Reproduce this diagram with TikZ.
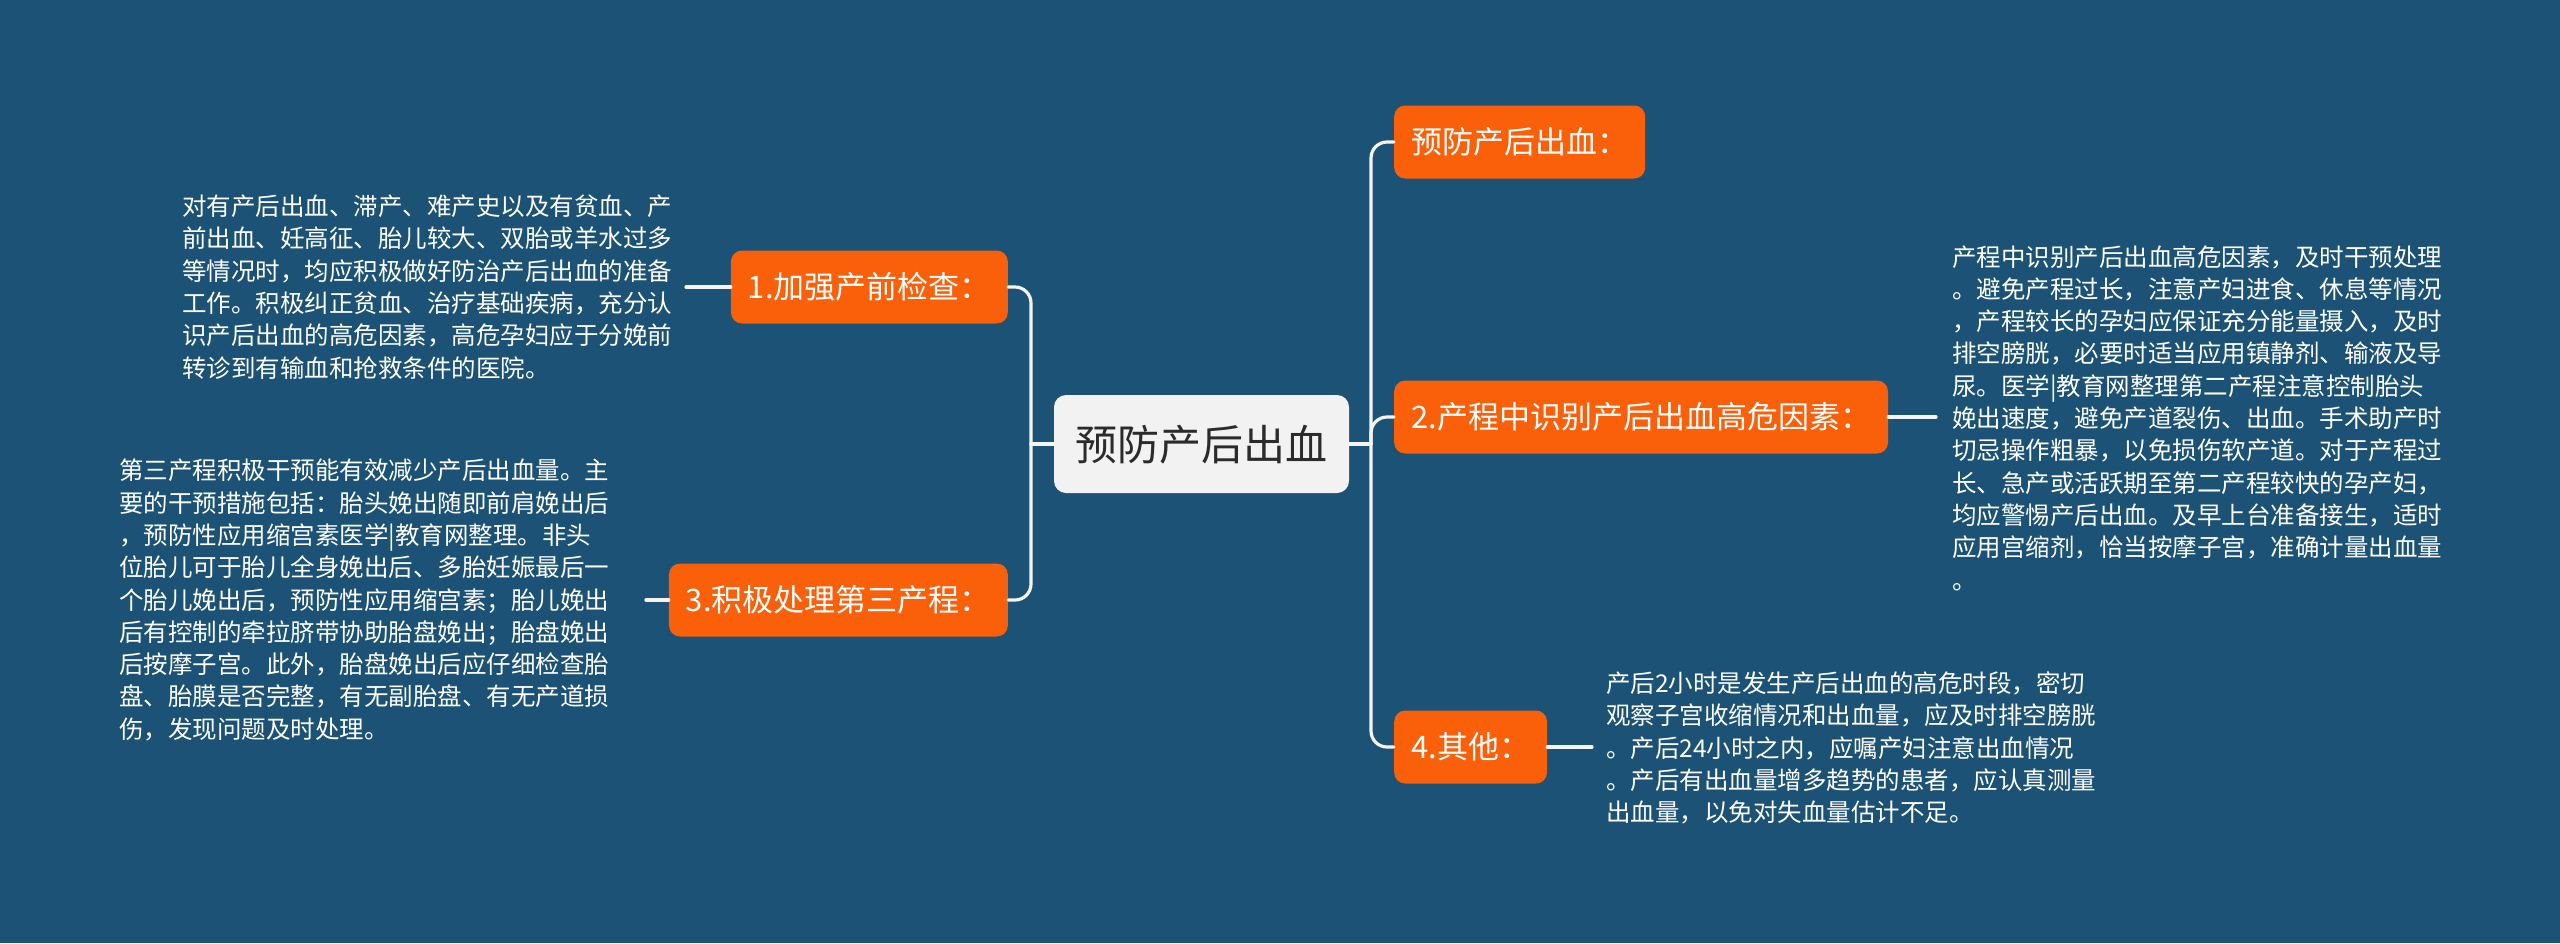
\documentclass[tikz,border=0pt]{standalone}
\usepackage{fontspec}
\setmainfont{Noto Sans CJK SC}
\definecolor{bg}{HTML}{1B5276}
\definecolor{org}{HTML}{FA600A}
\definecolor{ctr}{HTML}{F2F2F2}
\definecolor{ink}{HTML}{2B2B2B}
\definecolor{wirec}{HTML}{F4F4F4}
\begin{document}
\begin{tikzpicture}[x=1pt,y=-1pt,
  topic/.style={fill=org, text=white, rounded corners=11pt,
    font=\fontsize{31}{36}\selectfont, inner xsep=17pt, inner ysep=0pt,
    text height=27pt, text depth=4pt, minimum height=73pt, anchor=west},
  root/.style={fill=ctr, text=ink, rounded corners=12pt,
    font=\fontsize{42}{48}\selectfont, inner xsep=21.5pt, inner ysep=0pt,
    text height=37pt, text depth=5pt, minimum height=98pt},
  note/.style={text=white, font=\fontsize{24.5}{32.3}\selectfont, align=left,
    inner sep=0pt, anchor=west},
  wire/.style={draw=wirec, line width=3.2pt, line cap=round},
  elbow/.style={wire, rounded corners=16pt}]

\path[use as bounding box, fill=bg] (0,0) rectangle (2560,943);

% root
\node[root] (c) at (1201.5,444) {预防产后出血};

% topics
\node[topic] (r1) at (1394,142) {预防产后出血：};
\node[topic] (r2) at (1394,417) {2.产程中识别产后出血高危因素：};
\node[topic] (r4) at (1394,747) {4.其他：};
\node[topic, anchor=east] (l1) at (1008,287) {1.加强产前检查：};
\node[topic, anchor=east] (l3) at (1008,600) {3.积极处理第三产程：};

% notes
\node[note] (n1) at (182,287) {对有产后出血、滞产、难产史以及有贫血、产\\前出血、妊高征、胎儿较大、双胎或羊水过多\\等情况时，均应积极做好防治产后出血的准备\\工作。积极纠正贫血、治疗基础疾病，充分认\\识产后出血的高危因素，高危孕妇应于分娩前\\转诊到有输血和抢救条件的医院。};
\node[note] (n3) at (119,600) {第三产程积极干预能有效减少产后出血量。主\\要的干预措施包括：胎头娩出随即前肩娩出后\\，预防性应用缩宫素医学|教育网整理。非头\\位胎儿可于胎儿全身娩出后、多胎妊娠最后一\\个胎儿娩出后，预防性应用缩宫素；胎儿娩出\\后有控制的牵拉脐带协助胎盘娩出；胎盘娩出\\后按摩子宫。此外，胎盘娩出后应仔细检查胎\\盘、胎膜是否完整，有无副胎盘、有无产道损\\伤，发现问题及时处理。};
\node[note] (n2) at (1952,418) {产程中识别产后出血高危因素，及时干预处理\\。避免产程过长，注意产妇进食、休息等情况\\，产程较长的孕妇应保证充分能量摄入，及时\\排空膀胱，必要时适当应用镇静剂、输液及导\\尿。医学|教育网整理第二产程注意控制胎头\\娩出速度，避免产道裂伤、出血。手术助产时\\切忌操作粗暴，以免损伤软产道。对于产程过\\长、急产或活跃期至第二产程较快的孕产妇，\\均应警惕产后出血。及早上台准备接生，适时\\应用宫缩剂，恰当按摩子宫，准确计量出血量\\。};
\node[note] (n4) at (1606,748) {产后2小时是发生产后出血的高危时段，密切\\观察子宫收缩情况和出血量，应及时排空膀胱\\。产后24小时之内，应嘱产妇注意出血情况\\。产后有出血量增多趋势的患者，应认真测量\\出血量，以免对失血量估计不足。};

% junctions and stub ends
\coordinate (jr) at (1371,444);
\coordinate (jl) at (1031,444);
\coordinate (e1) at (686,287);
\coordinate (e3) at (646,600);
\coordinate (e2) at (1936,417);
\coordinate (e4) at (1592,747);

% connectors
\draw[wire] (c.east) -- (jr);
\draw[wire] (c.west) -- (jl);
\draw[elbow] (jr) |- (r1.west);
\draw[elbow] (jr) |- (r2.west);
\draw[elbow] (jr) |- (r4.west);
\draw[elbow] (jl) |- (l1.east);
\draw[elbow] (jl) |- (l3.east);
\draw[wire] (l1.west) -- (e1);
\draw[wire] (l3.west) -- (e3);
\draw[wire] (r2.east) -- (e2);
\draw[wire] (r4.east) -- (e4);
\end{tikzpicture}
\end{document}
